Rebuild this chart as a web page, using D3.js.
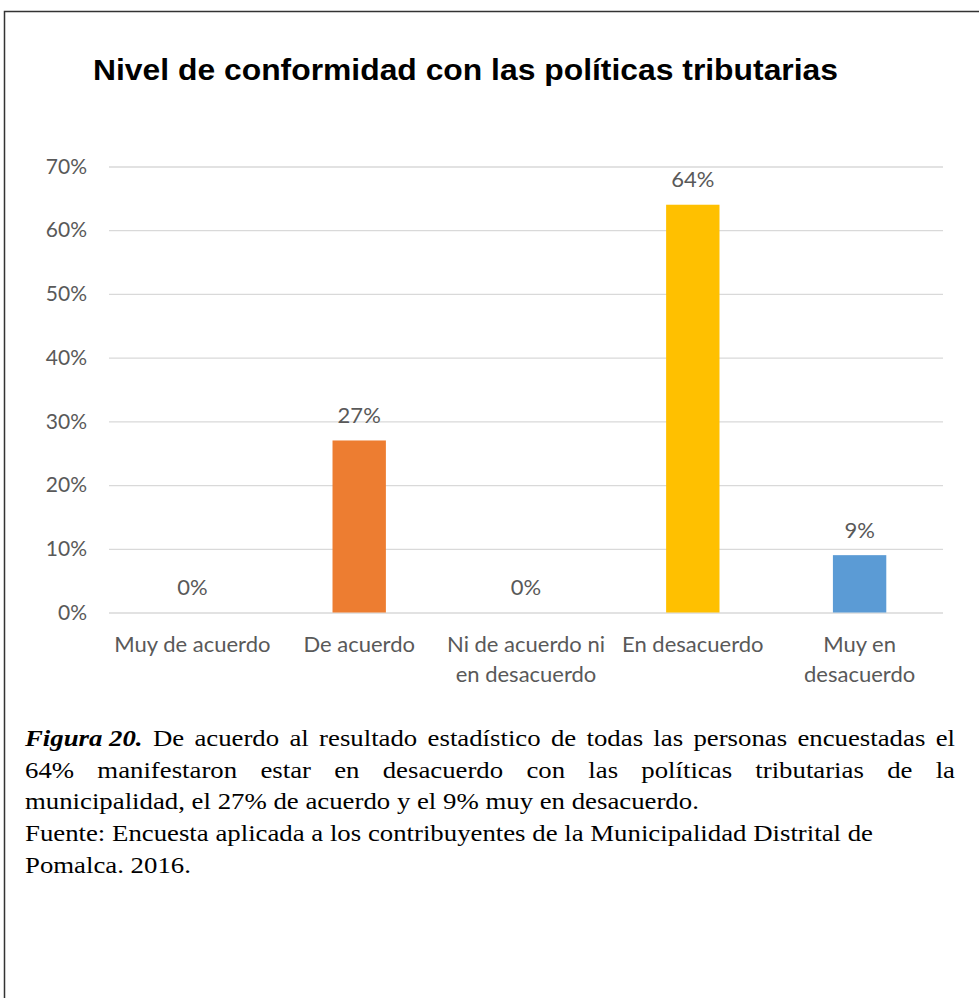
<!DOCTYPE html>
<html>
<head>
<meta charset="utf-8">
<script src="https://cdn.jsdelivr.net/npm/d3@7"></script>
<style>
  body { margin: 0; background: white; }
</style>
</head>
<body>
<div id="container"></div>
<script>
// chart data
let categories = ["Muy de acuerdo", "De acuerdo", "Ni de acuerdo ni en desacuerdo", "En desacuerdo", "Muy en desacuerdo"];
let labelLines = [["Muy de acuerdo"], ["De acuerdo"], ["Ni de acuerdo ni", "en desacuerdo"], ["En desacuerdo"], ["Muy en", "desacuerdo"]];
let values = [0, 0.27, 0, 0.64, 0.09];
let barColors = ["#4472C4", "#ED7D31", "#A5A5A5", "#FFC000", "#5B9BD5"];
let yTicks = [0, 0.1, 0.2, 0.3, 0.4, 0.5, 0.6, 0.7];

let title = "Nivel de conformidad con las políticas tributarias";
let captionLines = [
  { lead: "Figura 20.", text: "De acuerdo al resultado estadístico de todas las personas encuestadas el", justify: true },
  { lead: "", text: "64% manifestaron estar en desacuerdo con las políticas tributarias de la", justify: true },
  { lead: "", text: "municipalidad, el 27% de acuerdo y el 9% muy en desacuerdo.", justify: false },
  { lead: "", text: "Fuente: Encuesta aplicada a los contribuyentes de la Municipalidad Distrital de", justify: false },
  { lead: "", text: "Pomalca. 2016.", justify: false }
];

let w = 979;
let h = 998;
let plotLeft = 109;
let plotRight = 943;
let plotTop = 166.5;
let plotBottom = 612.5;
let axisFont = "Lato, 'Open Sans', sans-serif";
let textGray = "#595959";

let viz = d3.select("#container")
  .append("svg")
  .attr("width", w)
  .attr("height", h)
  .style("background-color", "white");

// outer frame (top and left only)
viz.append("path")
  .attr("d", "M4.5," + h + " L4.5,11.5 L" + w + ",11.5")
  .attr("fill", "none")
  .attr("stroke", "#333")
  .attr("stroke-width", 1.5);

// title (the source image is a bit stretched sideways)
viz.append("text")
  .attr("x", 93)
  .attr("y", 79.5)
  .attr("font-family", "'Liberation Sans', Arial, sans-serif")
  .attr("font-weight", "bold")
  .attr("font-size", 29.5)
  .attr("textLength", 745)
  .attr("lengthAdjust", "spacingAndGlyphs")
  .attr("fill", "#000")
  .text(title);

let xScale = d3.scaleBand()
  .domain(categories)
  .range([plotLeft, plotRight])
  .paddingInner(0.68)
  .paddingOuter(0.34);

let yScale = d3.scaleLinear().domain([0, 0.7]).range([plotBottom, plotTop]);

// gridlines + tick labels
let yAxis = d3.axisLeft(yScale)
  .tickValues(yTicks)
  .tickSize(-(plotRight - plotLeft))
  .tickPadding(22)
  .tickFormat(d3.format(".0%"));

let yAxisGroup = viz.append("g")
  .attr("class", "yaxis")
  .attr("transform", "translate(" + plotLeft + ",0)")
  .call(yAxis);
yAxisGroup.select(".domain").remove();
yAxisGroup.selectAll("line").attr("stroke", "#d9d9d9").attr("stroke-width", 1.3);
yAxisGroup.selectAll("text")
  .attr("fill", textGray)
  .attr("font-family", axisFont)
  .attr("font-size", 21);

// bars
viz.selectAll(".bar")
  .data(values)
  .enter()
  .append("rect")
  .attr("class", "bar")
  .attr("x", function (d, i) { return xScale(categories[i]); })
  .attr("width", xScale.bandwidth())
  .attr("y", function (d) { return yScale(d); })
  .attr("height", function (d) { return yScale(0) - yScale(d); })
  .attr("fill", function (d, i) { return barColors[i]; });

// value labels
viz.selectAll(".vlabel")
  .data(values)
  .enter()
  .append("text")
  .attr("class", "vlabel")
  .attr("x", function (d, i) { return xScale(categories[i]) + xScale.bandwidth() / 2; })
  .attr("y", function (d) { return yScale(d) - 17.5; })
  .attr("text-anchor", "middle")
  .attr("fill", textGray)
  .attr("font-family", axisFont)
  .attr("font-size", 22)
  .text(function (d) { return Math.round(d * 100) + "%"; });

// category labels
let catGroups = viz.selectAll(".cat")
  .data(labelLines)
  .enter()
  .append("text")
  .attr("class", "cat")
  .attr("text-anchor", "middle")
  .attr("fill", textGray)
  .attr("font-family", axisFont)
  .attr("font-size", 22);

catGroups.each(function (lines, i) {
  let cx = xScale(categories[i]) + xScale.bandwidth() / 2;
  d3.select(this).selectAll("tspan")
    .data(lines)
    .enter()
    .append("tspan")
    .attr("x", cx)
    .attr("y", function (d, j) { return 652 + j * 29.5; })
    .text(function (d) { return d; });
});

// caption, justified like the word document
let capLeft = 25;
let capRight = 955;
let capFont = "'Liberation Serif', 'Times New Roman', serif";
let capSize = 23.5;

function makeLine(g, line, y) {
  let words = [];
  if (line.lead) words.push({ t: line.lead, lead: true });
  line.text.split(" ").forEach(function (t) { words.push({ t: t, lead: false }); });
  let nodes = words.map(function (wd) {
    let t = g.append("text")
      .attr("x", 0)
      .attr("y", 0)
      .attr("font-family", capFont)
      .attr("font-size", capSize)
      .attr("fill", "#000")
      .text(wd.t);
    if (wd.lead) t.attr("font-weight", "bold").attr("font-style", "italic");
    return t;
  });
  let widths = nodes.map(function (n) { return n.node().getComputedTextLength(); });
  return { nodes: nodes, widths: widths, y: y, justify: line.justify };
}

let capGroup = viz.append("g").attr("class", "caption");
let built = captionLines.map(function (line, li) {
  return makeLine(capGroup.append("g"), line, 746 + li * 31.7);
});

// horizontal stretch taken from the "Fuente" line, which ends near x = 873
let spaceW = capSize * 0.25;
let fuente = built[3];
let naturalW = d3.sum(fuente.widths) + spaceW * (fuente.nodes.length - 1);
let sx = (873 - capLeft) / naturalW;

built.forEach(function (b) {
  let total = d3.sum(b.widths) * sx;
  let space = spaceW * sx;
  if (b.justify) space = (capRight - capLeft - total) / (b.nodes.length - 1);
  let x = capLeft;
  b.nodes.forEach(function (n, i) {
    n.attr("transform", "translate(" + x + "," + b.y + ") scale(" + sx + ",1)");
    x += b.widths[i] * sx + space;
  });
});
</script>
</body>
</html>
